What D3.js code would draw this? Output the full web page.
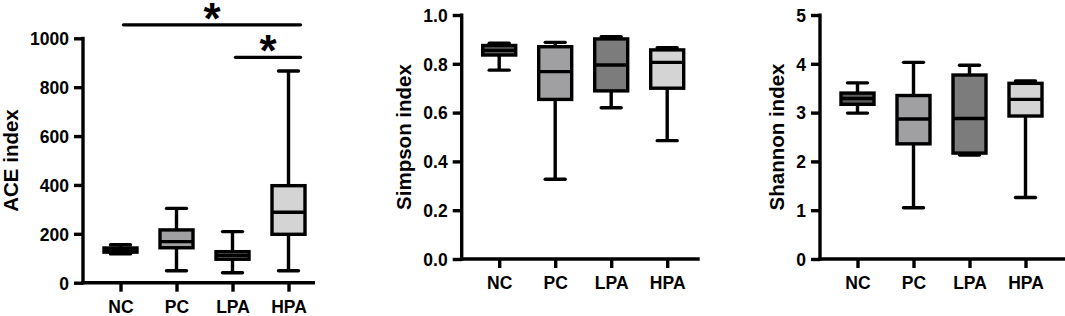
<!DOCTYPE html>
<html>
<head>
<meta charset="utf-8">
<script src="https://cdn.jsdelivr.net/npm/d3@7"></script>
<style>
  body { margin: 0; background: #fff; }
  svg text { font-family: "Liberation Sans", Arial, sans-serif; font-weight: bold; fill: #000; }
</style>
</head>
<body>
<div id="chart"></div>
<script>
// groups and fill colours
const groups = ['NC', 'PC', 'LPA', 'HPA']
const groupFill = ['#5e5e5e', '#a0a0a2', '#7c7c7c', '#d4d4d4']

// box stats per group: [min, q1, median, q3, max]
const aceStats = [
  [118, 125, 135, 142, 155],
  [49, 143, 168, 216, 304],
  [41, 96, 112, 127, 209],
  [49, 198, 288, 397, 866]
]
const simpsonStats = [
  [0.774, 0.836, 0.855, 0.875, 0.884],
  [0.327, 0.654, 0.768, 0.870, 0.888],
  [0.620, 0.689, 0.795, 0.902, 0.911],
  [0.485, 0.700, 0.806, 0.857, 0.866]
]
const shannonStats = [
  [2.99, 3.17, 3.29, 3.40, 3.61],
  [1.05, 2.36, 2.87, 3.35, 4.03],
  [2.13, 2.17, 2.88, 3.77, 3.97],
  [1.26, 2.93, 3.27, 3.60, 3.65]
]

// y ticks
const aceTicks = [0, 200, 400, 600, 800, 1000]
const simpsonTicks = [0, 0.2, 0.4, 0.6, 0.8, 1.0]
const shannonTicks = [0, 1, 2, 3, 4, 5]

// significance bars on the ACE panel
const aceSig = [
  {from: 'NC', to: 'HPA', y: 1055, label: '*'},
  {from: 'LPA', to: 'HPA', y: 922, label: '*'}
]

const svg = d3.select('#chart')
  .append('svg')
    .attr('width', 1065)
    .attr('height', 316)

const lw = 3.4

function drawPanel(opts) {
  const {left, top, bottom, width, domain, ticks, fmt, stats, title, titleX, sig} = opts
  const g = svg.append('g')
    .attr('transform', `translate(${left},0)`)

  const y = d3.scaleLinear()
    .domain(domain)
    .range([bottom, top])

  const x = d3.scalePoint()
    .domain(groups)
    .range([37.5, 205.5])

  // y axis
  const yAx = g.append('g')
    .call(d3.axisLeft(y).tickValues(ticks).tickFormat(fmt).tickSize(9).tickSizeOuter(0))
  yAx.select('.domain').remove()
  yAx.selectAll('.tick line').attr('stroke', '#000').attr('stroke-width', lw)
  yAx.selectAll('.tick text').attr('x', -14).attr('font-size', 17.5).attr('dy', '0.36em')
  g.append('line')
    .attr('x1', 0).attr('x2', 0)
    .attr('y1', top - 1.5).attr('y2', bottom + lw / 2)
    .attr('stroke', '#000').attr('stroke-width', lw)

  // x axis
  const xAx = g.append('g')
    .attr('transform', `translate(0,${bottom})`)
    .call(d3.axisBottom(x).tickSize(9).tickSizeOuter(0))
  xAx.select('.domain').remove()
  xAx.selectAll('.tick line').attr('stroke', '#000').attr('stroke-width', lw)
  xAx.selectAll('.tick text').attr('y', 30).attr('dy', 0).attr('font-size', 17.5)
  g.append('line')
    .attr('x1', -lw / 2).attr('x2', width)
    .attr('y1', bottom).attr('y2', bottom)
    .attr('stroke', '#000').attr('stroke-width', lw)

  // axis title
  g.append('text')
    .attr('transform', `translate(${titleX},${(top + bottom) / 2}) rotate(-90)`)
    .attr('text-anchor', 'middle')
    .attr('dy', '0.36em')
    .attr('font-size', 20.5)
    .text(title)

  // boxes
  const boxW = 33, capW = 20
  const box = g.selectAll('.box')
    .data(stats)
    .join('g')
    .attr('class', 'box')
    .attr('transform', (d, i) => `translate(${x(groups[i])},0)`)

  box.append('line')
    .attr('y1', d => y(d[0])).attr('y2', d => y(d[1]))
    .attr('stroke', '#000').attr('stroke-width', lw)
  box.append('line')
    .attr('y1', d => y(d[3])).attr('y2', d => y(d[4]))
    .attr('stroke', '#000').attr('stroke-width', lw)
  box.append('line')
    .attr('x1', -capW / 2).attr('x2', capW / 2)
    .attr('y1', d => y(d[0])).attr('y2', d => y(d[0]))
    .attr('stroke', '#000').attr('stroke-width', lw).attr('stroke-linecap', 'round')
  box.append('line')
    .attr('x1', -capW / 2).attr('x2', capW / 2)
    .attr('y1', d => y(d[4])).attr('y2', d => y(d[4]))
    .attr('stroke', '#000').attr('stroke-width', lw).attr('stroke-linecap', 'round')
  box.append('rect')
    .attr('x', -boxW / 2)
    .attr('width', boxW)
    .attr('y', d => y(d[3]))
    .attr('height', d => y(d[1]) - y(d[3]))
    .attr('fill', (d, i) => groupFill[i])
    .attr('stroke', '#000').attr('stroke-width', lw)
  box.append('line')
    .attr('x1', -boxW / 2).attr('x2', boxW / 2)
    .attr('y1', d => y(d[2])).attr('y2', d => y(d[2]))
    .attr('stroke', '#000').attr('stroke-width', lw)

  // significance
  if (sig) {
    sig.forEach(s => {
      const x1 = x(s.from) + 3, x2 = x(s.to) + 12
      g.append('line')
        .attr('x1', x1).attr('x2', x2)
        .attr('y1', y(s.y)).attr('y2', y(s.y))
        .attr('stroke', '#000').attr('stroke-width', lw).attr('stroke-linecap', 'round')
      g.append('text')
        .attr('x', (x1 + x2) / 2)
        .attr('y', y(s.y) + 9)
        .attr('text-anchor', 'middle')
        .attr('font-size', 44)
        .text(s.label)
    })
  }
}

drawPanel({
  left: 83, top: 38.3, bottom: 282.7, width: 232,
  domain: [0, 1000], ticks: aceTicks, fmt: d3.format('d'),
  stats: aceStats, title: 'ACE index', titleX: -72, sig: aceSig
})

drawPanel({
  left: 461.7, top: 15, bottom: 259, width: 238,
  domain: [0, 1], ticks: simpsonTicks, fmt: d3.format('.1f'),
  stats: simpsonStats, title: 'Simpson index', titleX: -58
})

drawPanel({
  left: 820, top: 15, bottom: 259, width: 245,
  domain: [0, 5], ticks: shannonTicks, fmt: d3.format('d'),
  stats: shannonStats, title: 'Shannon index', titleX: -43
})
</script>
</body>
</html>
